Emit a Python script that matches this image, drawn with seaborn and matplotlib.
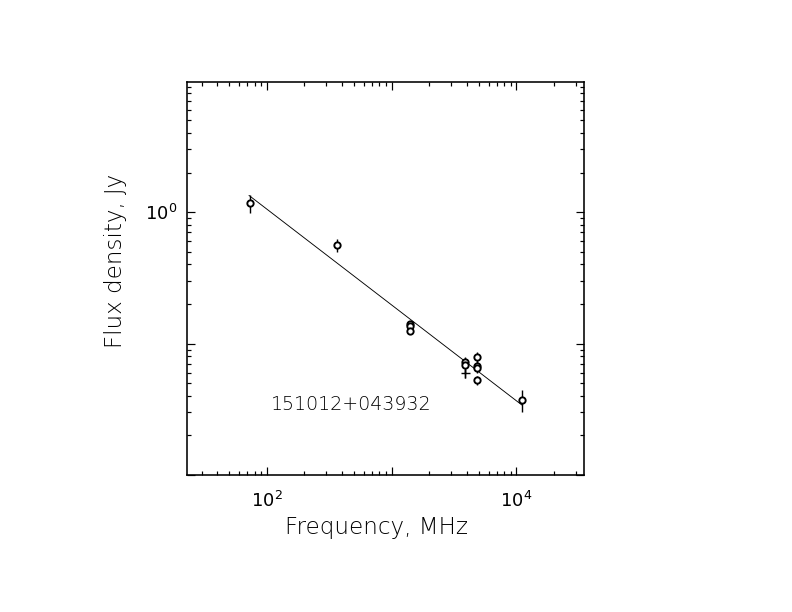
import matplotlib

matplotlib.use("Agg")
import matplotlib.pyplot as plt
import pandas as pd
import seaborn as sns
from matplotlib.ticker import FixedFormatter, FixedLocator, LogLocator, NullFormatter

# measured points (MHz, Jy)
FREQ = [74, 365, 1400, 1400, 1400, 3900, 3900, 4850, 4850, 4850, 4850, 11200]
FLUX = [1.17, 0.56, 0.140, 0.136, 0.125, 0.0726, 0.0686, 0.0784, 0.068, 0.065, 0.0527, 0.0372]
FLUX_ERR = [0.18, 0.065, 0.006, 0.006, 0.005, 0.006, 0.009, 0.008, 0.005, 0.005, 0.004, 0.0072]

# point drawn with a cross instead of a circle
CROSS_FREQ = [3900]
CROSS_FLUX = [0.0593]
CROSS_ERR = [0.005]

# power-law fit, end points
FIT_FREQ = [72, 11100]
FIT_FLUX = [1.34, 0.034]

SOURCE_NAME = "151012+043932"
X_MAJOR = [10, 100, 1000, 10000]
X_LABELS = ["", "$10^{2}$", "", "$10^{4}$"]
Y_MAJOR = [0.01, 0.1, 1, 10]
Y_LABELS = ["", "", "$10^{0}$", ""]


def main() -> None:
    sns.set_style("ticks")
    plt.rcParams["font.family"] = ["DejaVu Sans"]
    plt.rcParams["mathtext.default"] = "regular"
    plt.rcParams["text.color"] = "black"
    plt.rcParams["axes.labelcolor"] = "black"

    points = pd.DataFrame({"freq": FREQ, "flux": FLUX})
    fit = pd.DataFrame({"freq": FIT_FREQ, "flux": FIT_FLUX})

    fig = plt.figure(figsize=(11, 8.5), dpi=72)
    ax = fig.add_axes([0.236, 0.224, 0.501, 0.642])
    ax.set_xscale("log")
    ax.set_yscale("log")

    sns.lineplot(data=fit, x="freq", y="flux", ax=ax, color="black", linewidth=0.9)
    ax.errorbar(FREQ, FLUX, yerr=FLUX_ERR, fmt="none", ecolor="black", elinewidth=1.4, capsize=0)
    ax.errorbar(CROSS_FREQ, CROSS_FLUX, yerr=CROSS_ERR, fmt="none", ecolor="black", elinewidth=1.4, capsize=0)
    sns.scatterplot(data=points, x="freq", y="flux", ax=ax, marker="o", s=40,
                    facecolor="white", edgecolor="black", linewidth=1.9, zorder=5)
    ax.plot(CROSS_FREQ, CROSS_FLUX, marker="+", color="black", markersize=9, mew=1.4, ls="none")

    ax.set_xlim(10 ** 1.36, 10 ** 4.54)
    ax.set_ylim(0.01, 10 ** 0.99)

    ax.xaxis.set_major_locator(FixedLocator(X_MAJOR))
    ax.xaxis.set_major_formatter(FixedFormatter(X_LABELS))
    ax.xaxis.set_minor_locator(LogLocator(base=10, subs=range(2, 10), numticks=20))
    ax.xaxis.set_minor_formatter(NullFormatter())
    ax.yaxis.set_major_locator(FixedLocator(Y_MAJOR))
    ax.yaxis.set_major_formatter(FixedFormatter(Y_LABELS))
    ax.yaxis.set_minor_locator(LogLocator(base=10, subs=range(2, 10), numticks=20))
    ax.yaxis.set_minor_formatter(NullFormatter())

    ax.tick_params(which="both", direction="in", top=True, right=True, color="black",
                   labelcolor="black", width=1.2)
    ax.tick_params(which="major", length=8, labelsize=18)
    ax.tick_params(which="minor", length=4)
    ax.tick_params(axis="x", which="major", pad=16)
    ax.tick_params(axis="y", which="major", pad=10)

    for spine in ax.spines.values():
        spine.set_color("black")
        spine.set_linewidth(1.6)

    ax.set_xlabel("Frequency, MHz", fontsize=23, va="top", fontweight="light")
    ax.xaxis.set_label_coords(0.479, -0.104)
    ax.set_ylabel("Flux density, Jy", fontsize=23, fontweight="light")
    ax.yaxis.set_label_coords(-0.151, 0.545)

    ax.text(0.413, 0.178, SOURCE_NAME, transform=ax.transAxes, fontsize=19,
            ha="center", va="center", color="black", fontweight="light")

    fig.savefig("out.png", dpi=72, facecolor="white")


if __name__ == "__main__":
    main()
